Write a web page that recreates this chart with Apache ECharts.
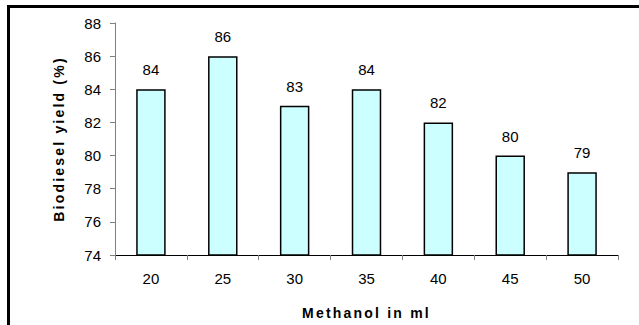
<!DOCTYPE html>
<html>
<head>
<meta charset="utf-8">
<script src="https://cdn.jsdelivr.net/npm/echarts@6/dist/echarts.min.js"></script>
<style>
  html, body { margin: 0; padding: 0; background: #fff; }
  #chart { position: absolute; left: 0; top: 0; width: 639px; height: 325px; }
  #frame { position: absolute; left: 7px; top: 5px; width: 700px; height: 400px;
           border-left: 3px solid #000; border-top: 3px solid #000; pointer-events: none; }
  #chart text[style*="bold"] { letter-spacing: 2.2px; }
</style>
</head>
<body>
<div id="frame"></div>
<div id="chart"></div>
<script>
const categories = ['20', '25', '30', '35', '40', '45', '50'];
const yieldValues = [84, 86, 83, 84, 82, 80, 79];
const yTicks = { min: 74, max: 88, interval: 2 };
const xAxisTitle = 'Methanol in ml';
const yAxisTitle = 'Biodiesel yield (%)';

const FONT = '"Liberation Sans", Arial, sans-serif';
const chart = echarts.init(document.getElementById('chart'), null, { renderer: 'svg' });
chart.setOption({
  animation: false,
  backgroundColor: 'transparent',
  grid: { left: 115, right: 21, top: 23, bottom: 69, containLabel: false },
  xAxis: {
    type: 'category',
    data: categories,
    name: xAxisTitle,
    nameLocation: 'middle',
    nameGap: 51,
    nameTextStyle: { fontFamily: FONT, fontWeight: 'bold', fontSize: 14, color: '#000' },
    axisLine: { lineStyle: { color: '#000', width: 1 } },
    axisTick: { show: true, length: 5, alignWithLabel: false, lineStyle: { color: '#808080' } },
    axisLabel: { fontFamily: FONT, fontSize: 15, color: '#000', margin: 16 },
    splitLine: { show: false }
  },
  yAxis: {
    type: 'value',
    min: yTicks.min,
    max: yTicks.max,
    interval: yTicks.interval,
    name: yAxisTitle,
    nameLocation: 'middle',
    nameGap: 49,
    nameTextStyle: { fontFamily: FONT, fontWeight: 'bold', fontSize: 14, color: '#000' },
    axisLine: { show: true, lineStyle: { color: '#808080', width: 1 } },
    axisTick: { show: true, length: 5, lineStyle: { color: '#808080' } },
    axisLabel: { fontFamily: FONT, fontSize: 15, color: '#000', margin: 14 },
    splitLine: { show: false }
  },
  series: [{
    type: 'bar',
    data: yieldValues,
    barWidth: '41%',
    itemStyle: { color: '#CCFFFF', borderColor: '#000', borderWidth: 1.5 },
    label: { show: true, position: 'top', distance: 12, fontFamily: FONT, fontSize: 15, color: '#000' }
  }]
});
</script>
</body>
</html>
